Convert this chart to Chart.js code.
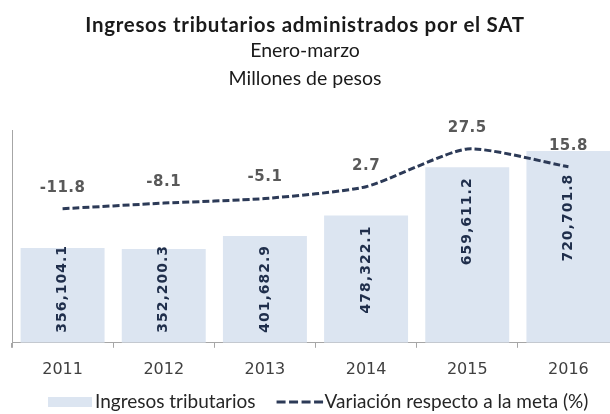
<!DOCTYPE html>
<html><head><meta charset="utf-8">
<script src="https://cdn.jsdelivr.net/npm/chart.js@4.4.0/dist/chart.umd.min.js"></script>
<style>
html,body{margin:0;padding:0;overflow:hidden;background:#fff;width:610px;height:414px}
#wrap{position:absolute;left:0;top:0;width:640px;height:414px}
</style></head>
<body><div id="wrap"><canvas id="c"></canvas></div>
<script>
const years = ['2011', '2012', '2013', '2014', '2015', '2016'];
const ingresos = [356104.1, 352200.3, 401682.9, 478322.1, 659611.2, 720701.8];
const variacion = [-11.8, -8.1, -5.1, 2.7, 27.5, 15.8];
const titleText = 'Ingresos tributarios administrados por el SAT';
const subtitleLines = ['Enero-marzo', 'Millones de pesos'];
const seriesNames = ['Ingresos tributarios', 'Variación respecto a la meta (%)'];

const BAR_COLOR = '#DCE5F1';
const LINE_COLOR = '#2C3A57';
const AXIS_COLOR = '#A6A6A6';

const fmtBar = v => v.toLocaleString('en-US', {minimumFractionDigits: 1, maximumFractionDigits: 1});
const fmtLine = v => v.toFixed(1);

const headerPlugin = {
  id: 'header',
  afterDraw(chart) {
    const ctx = chart.ctx;
    ctx.save();
    ctx.fillStyle = '#1a1a1a';
    ctx.textAlign = 'center';
    ctx.textBaseline = 'alphabetic';
    ctx.font = 'bold 20.5px Lato';
    ctx.letterSpacing = '0.7px';
    ctx.fillText(titleText, 305, 32);
    ctx.letterSpacing = '0px';
    ctx.font = '19.5px Lato';
    ctx.fillText(subtitleLines[0], 305, 57);
    ctx.fillText(subtitleLines[1], 305, 85);
    ctx.restore();
  }
};

const axisLinePlugin = {
  id: 'axisLine',
  beforeDatasetsDraw(chart) {
    const {ctx, chartArea} = chart;
    ctx.save();
    ctx.strokeStyle = AXIS_COLOR;
    ctx.lineWidth = 1;
    ctx.beginPath();
    const x = Math.round(chartArea.left) + 0.5;
    ctx.moveTo(x, chartArea.top);
    ctx.lineTo(x, chartArea.bottom + 5);
    ctx.stroke();
    ctx.restore();
  }
};

const labelsPlugin = {
  id: 'valueLabels',
  afterDatasetsDraw(chart) {
    const ctx = chart.ctx;
    ctx.save();
    const barMeta = chart.getDatasetMeta(1);
    const lineMeta = chart.getDatasetMeta(0);
    ctx.font = 'bold 14px "DejaVu Sans"';
    ctx.fillStyle = '#1F2E4B';
    ctx.letterSpacing = '1px';
    barMeta.data.forEach((el, i) => {
      const p = el.getProps(['x', 'y', 'base']);
      const lp = lineMeta.data[i].getProps(['y']);
      const txt = fmtBar(ingresos[i]);
      const w = ctx.measureText(txt).width;
      const yTop = Math.max(p.y + 10, lp.y + 7);
      const yBottom = Math.min(p.base - 10, yTop + w);
      ctx.save();
      ctx.translate(p.x, yBottom);
      ctx.rotate(-Math.PI / 2);
      ctx.textAlign = 'left';
      ctx.textBaseline = 'middle';
      ctx.fillText(txt, 0, 0);
      ctx.restore();
    });
    ctx.font = 'bold 15px "DejaVu Sans"';
    ctx.fillStyle = '#595959';
    ctx.letterSpacing = '0.5px';
    ctx.textAlign = 'center';
    ctx.textBaseline = 'middle';
    lineMeta.data.forEach((el, i) => {
      const p = el.getProps(['x', 'y']);
      ctx.fillText(fmtLine(variacion[i]), p.x, p.y - 21);
    });
    ctx.restore();
  }
};

const legendPlugin = {
  id: 'customLegend',
  afterDraw(chart) {
    const ctx = chart.ctx;
    ctx.save();
    const yMid = 402;
    ctx.fillStyle = BAR_COLOR;
    ctx.fillRect(48, yMid - 5, 44, 10);
    ctx.font = '19px Lato';
    ctx.fillStyle = '#262626';
    ctx.textAlign = 'left';
    ctx.textBaseline = 'middle';
    ctx.fillText(seriesNames[0], 95, yMid);
    const w1 = ctx.measureText(seriesNames[0]).width;
    const sx = 95 + w1 + 21;
    ctx.strokeStyle = LINE_COLOR;
    ctx.lineWidth = 3;
    ctx.setLineDash([9, 3.5]);
    ctx.beginPath();
    ctx.moveTo(sx, yMid);
    ctx.lineTo(sx + 47, yMid);
    ctx.stroke();
    ctx.setLineDash([]);
    ctx.fillText(seriesNames[1], sx + 48, yMid);
    ctx.restore();
  }
};

new Chart(document.getElementById('c'), {
  data: {
    labels: years,
    datasets: [
      {
        type: 'line',
        label: seriesNames[1],
        data: variacion,
        yAxisID: 'y1',
        borderColor: LINE_COLOR,
        borderWidth: 3,
        borderDash: [7, 3],
        tension: 0.2,
        pointRadius: 0,
        fill: false,
        order: 0
      },
      {
        type: 'bar',
        label: seriesNames[0],
        data: ingresos,
        yAxisID: 'y',
        backgroundColor: BAR_COLOR,
        borderWidth: 0,
        categoryPercentage: 1,
        barPercentage: 0.83,
        order: 1
      }
    ]
  },
  options: {
    responsive: true,
    maintainAspectRatio: false,
    animation: false,
    devicePixelRatio: 1,
    layout: {padding: {top: 130, left: 12, right: 21, bottom: 23}},
    plugins: {legend: {display: false}, tooltip: {enabled: false}, title: {display: false}},
    scales: {
      x: {
        offset: true,
        grid: {offset: true, drawOnChartArea: false, drawTicks: true, tickLength: 5, color: AXIS_COLOR},
        border: {color: AXIS_COLOR},
        ticks: {font: {family: 'DejaVu Sans', size: 16}, color: '#404040', padding: 12, maxRotation: 0, autoSkip: false}
      },
      y: {display: false, min: 0, max: 800000},
      y1: {display: false, min: -100, max: 40}
    }
  },
  plugins: [headerPlugin, axisLinePlugin, labelsPlugin, legendPlugin]
});
</script>
</body></html>
